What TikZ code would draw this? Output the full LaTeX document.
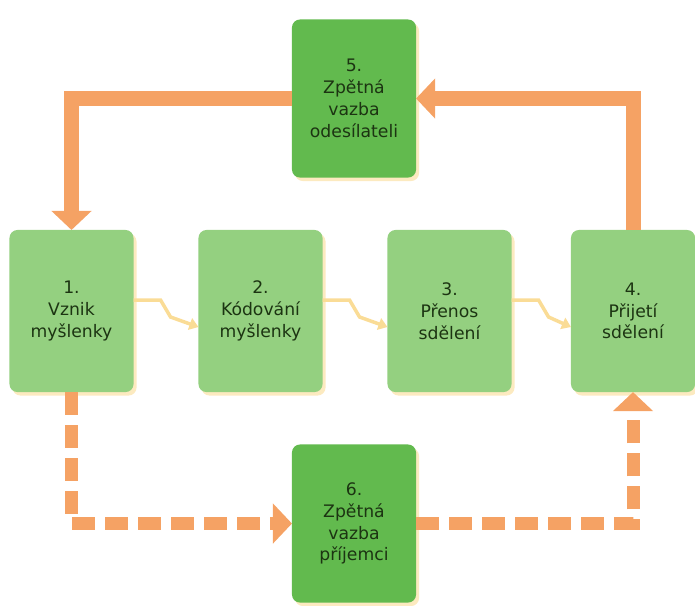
\documentclass[tikz,border=0pt]{standalone}
\usepackage{fontspec}
\setmainfont{DejaVu Sans}
\usetikzlibrary{arrows.meta,shadows}

\definecolor{boxlight}{RGB}{148,208,128}
\definecolor{boxdark}{RGB}{98,186,78}
\definecolor{flow}{RGB}{245,162,100}
\definecolor{hint}{RGB}{250,220,150}
\definecolor{ink}{RGB}{28,52,18}

\begin{document}
\begin{tikzpicture}[
    x=0.01cm,
    y=-0.01cm,
    stage/.style={rectangle, rounded corners=0.08cm, outer sep=0pt,
        minimum width=1.24cm, minimum height=1.62cm, align=center,
        text=ink, font=\fontsize{4.9}{6.2}\selectfont,
        drop shadow={shadow xshift=0.03cm, shadow yshift=-0.035cm,
            fill=hint, opacity=0.6}},
    phase/.style={stage, fill=boxlight},
    feedback/.style={stage, fill=boxdark, minimum height=1.58cm},
    flowline/.style={draw=flow, line width=0.15cm,
        -{Triangle[width=0.39cm,length=0.19cm]}},
    dashline/.style={flowline, line width=0.13cm,
        dash pattern=on 0.23cm off 0.1cm},
    hintline/.style={draw=hint, line width=0.035cm,
        -{Triangle[width=0.12cm,length=0.09cm]}}
]

\useasboundingbox (0,0) rectangle (695,605);

% Stages of the process
\node[phase] (vznik) at (71.5,311) {1.\\Vznik\\myšlenky};
\node[phase] (kodovani) at (260.5,311) {2.\\Kódování\\myšlenky};
\node[phase] (prenos) at (449.5,311) {3.\\Přenos\\sdělení};
\node[phase] (prijeti) at (633,311) {4.\\Přijetí\\sdělení};

% Feedback
\node[feedback] (odesilatel) at (354,98.5) {5.\\Zpětná\\vazba\\odesílateli};
\node[feedback] (prijemce) at (354,523.5) {6.\\Zpětná\\vazba\\příjemci};

% Faint arrows between stages
\foreach \a/\b in {vznik/kodovani, kodovani/prenos, prenos/prijeti} {
    \draw[hintline] ([yshift=0.11cm]\a.east) -- ++(27,0) -- ++(10,17)
        -- ([yshift=-0.16cm]\b.west);
}

% Feedback loops
\draw[flowline] (prijeti.north) |- (odesilatel.east);
\draw[flowline] (odesilatel.west) -| (vznik.north);
\draw[dashline] (vznik.south) |- (prijemce.west);
\draw[dashline] (prijemce.east) -| (prijeti.south);

\end{tikzpicture}
\end{document}
